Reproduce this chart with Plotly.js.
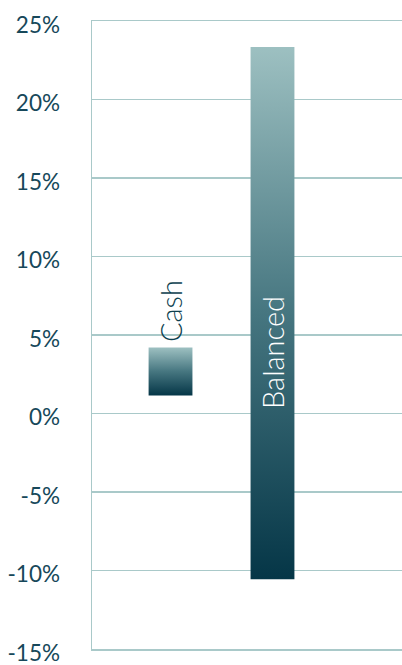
<!DOCTYPE html>
<html>
<head>
<meta charset="utf-8">
<script src="https://cdn.plot.ly/plotly-3.0.1.min.js"></script>
<style>
html,body{margin:0;padding:0;background:#fff;}
#chart{width:402px;height:665px;}
</style>
</head>
<body>
<div id="chart"></div>
<script>
// Data (percent)
const categories = ["Cash", "Balanced"];
const lowValues = [1.15, -10.55];
const highValues = [4.2, 23.35];
const tickValues = [-15, -10, -5, 0, 5, 10, 15, 20, 25];
const tickLabels = ["-15%", "-10%", "-5%", "0%", "5%", "10%", "15%", "20%", "25%"];

const positions = categories.map((c, i) => i);
const lengths = highValues.map((h, i) => h - lowValues[i]);

const gridColor = "#a9c9c9";
const textColor = "#17485a";
const fontFam = "Lato, 'Open Sans', sans-serif";

const trace = {
  type: "bar",
  x: positions,
  base: lowValues,
  y: lengths,
  width: 0.43,
  marker: {color: "#4f7f88", line: {width: 0}},
  hoverinfo: "skip",
  showlegend: false
};

const annotations = [
  {x: positions[0], y: highValues[0], yshift: 36, text: categories[0], textangle: -90,
   showarrow: false, xanchor: "center", yanchor: "middle",
   font: {family: fontFam, size: 29, color: "#0d3f4f", weight: 300}},
  {x: positions[1], y: 0, yshift: 61, text: categories[1], textangle: -90,
   showarrow: false, xanchor: "center", yanchor: "middle",
   font: {family: fontFam, size: 29, color: "#ffffff", weight: 300}}
];

const layout = {
  width: 402, height: 665,
  margin: {l: 92, r: 0, t: 21, b: 16, pad: 0},
  paper_bgcolor: "#ffffff", plot_bgcolor: "#ffffff",
  showlegend: false,
  xaxis: {
    range: [-0.77, 2.27], showgrid: false, zeroline: false,
    showticklabels: false, ticks: "", showline: true, mirror: true,
    linecolor: gridColor, linewidth: 1.5, fixedrange: true
  },
  yaxis: {
    range: [-15, 25], tickvals: tickValues, ticktext: tickLabels,
    showgrid: true, gridcolor: gridColor, gridwidth: 1.5,
    zeroline: false, showline: true, linecolor: gridColor, linewidth: 1.5,
    ticks: "", ticklabelstandoff: 26, ticklabelshift: 4,
    ticklabeloverflow: "allow",
    tickfont: {family: fontFam, size: 22.5, color: textColor, weight: 400},
    fixedrange: true
  },
  annotations: annotations
};

Plotly.newPlot("chart", [trace], layout, {displayModeBar: false, staticPlot: true}).then(gd => {
  const svg = gd.querySelector("svg.main-svg");
  const ns = "http://www.w3.org/2000/svg";
  let defs = svg.querySelector("defs");
  if (!defs) { defs = document.createElementNS(ns, "defs"); svg.insertBefore(defs, svg.firstChild); }
  const lg = document.createElementNS(ns, "linearGradient");
  lg.setAttribute("id", "barGrad");
  lg.setAttribute("x1", "0"); lg.setAttribute("y1", "0");
  lg.setAttribute("x2", "0"); lg.setAttribute("y2", "1");
  [["0", "#9dc0c1"], ["0.5", "#467680"], ["1", "#053647"]].forEach(([o, c]) => {
    const s = document.createElementNS(ns, "stop");
    s.setAttribute("offset", o); s.setAttribute("stop-color", c);
    lg.appendChild(s);
  });
  defs.appendChild(lg);
  gd.querySelectorAll(".bars .point path").forEach(p => { p.style.fill = "url(#barGrad)"; });
});
</script>
</body>
</html>
